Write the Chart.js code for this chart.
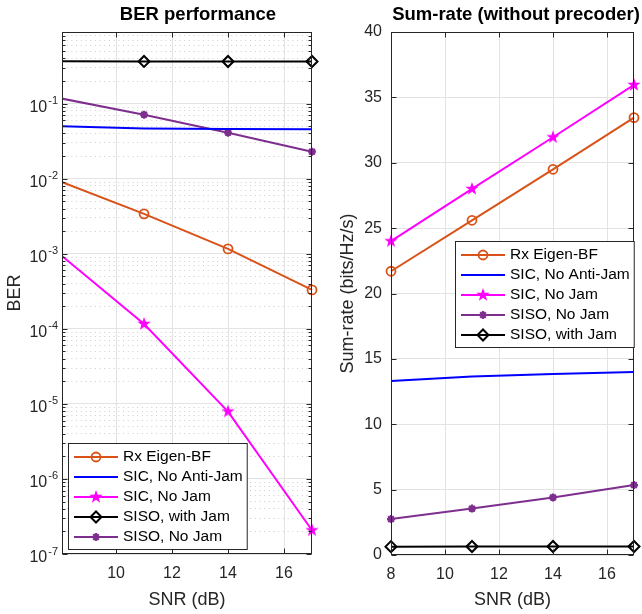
<!DOCTYPE html>
<html>
<head>
<meta charset="utf-8">
<script src="https://cdn.jsdelivr.net/npm/chart.js@4.4.0/dist/chart.umd.min.js"></script>
<style>
html, body { margin: 0; padding: 0; background: #fff; }
#wrap { position: relative; width: 642px; height: 614px; overflow: hidden; }
#ber { position: absolute; left: 0; top: 0; }
#rate { position: absolute; left: 330px; top: 0; }
</style>
</head>
<body>
<div id="wrap">
  <canvas id="ber" width="330" height="614"></canvas>
  <canvas id="rate" width="312" height="614"></canvas>
</div>
<script>
// datos
const snr = [8, 11, 14, 17];

const berRx = [0.0092, 0.0034, 0.00116, 0.00033];
const berSicAnti = [0.0500, 0.0468, 0.0458, 0.0454];
const berSicNoJam = [0.00098, 1.16e-4, 7.9e-6, 2.07e-7];
const berSisoJam = [0.366, 0.365, 0.364, 0.364];
const berSisoNoJam = [0.118, 0.0713, 0.041, 0.0229];

const rateRx = [21.7, 25.6, 29.5, 33.45];
const rateSicAnti = [13.3, 13.65, 13.85, 14.0];
const rateSicNoJam = [24.0, 28.0, 31.95, 35.95];
const rateSisoNoJam = [2.75, 3.55, 4.4, 5.35];
const rateSisoJam = [0.64, 0.65, 0.65, 0.65];

const snrTicksBer = [10, 12, 14, 16];
const snrTicksRate = [8, 10, 12, 14, 16];
const berDecades = [-7, -6, -5, -4, -3, -2, -1];
const rateTicks = [0, 5, 10, 15, 20, 25, 30, 35, 40];

const fam = "'Liberation Sans', Arial, Helvetica, sans-serif";
const txt = '#262626';
Chart.defaults.font.family = fam;
Chart.defaults.color = txt;

const berXMin = 8.07;

// valores de las marcas del eje log (decadas + menores)
const berTickValues = [];
berDecades.forEach(e => {
    for (let k = 1; k <= 9; k++) {
        const v = k * Math.pow(10, e);
        if (v <= 0.9 + 1e-12) berTickValues.push(v);
    }
});

function esDecada(v) {
    const l = Math.log10(v);
    return Math.abs(l - Math.round(l)) < 1e-9;
}

// pentagrama relleno para "SIC, No Jam"
function pentagrama(color, r) {
    const c = document.createElement('canvas');
    const s = Math.ceil(r * 2 + 2);
    c.width = s; c.height = s;
    const g = c.getContext('2d');
    g.beginPath();
    for (let i = 0; i < 10; i++) {
        const rr = i % 2 === 0 ? r : r * 0.4;
        const a = -Math.PI / 2 + i * Math.PI / 5;
        const px = s / 2 + rr * Math.cos(a);
        const py = s / 2 + rr * Math.sin(a);
        if (i === 0) g.moveTo(px, py); else g.lineTo(px, py);
    }
    g.closePath();
    g.fillStyle = color;
    g.fill();
    return c;
}
const estrella = pentagrama('#FF00FF', 7);

const mk = {
    rx: { style: 'circle', r: 4.5, bw: 1.8, fill: 'rgba(0,0,0,0)' },
    none: { style: 'circle', r: 0, bw: 0, fill: 'rgba(0,0,0,0)' },
    star: { style: estrella, r: 7, bw: 1, fill: '#FF00FF' },
    diam: { style: 'rectRot', r: 5.5, bw: 2, fill: 'rgba(0,0,0,0)' },
    ast: { style: 'star', r: 4, bw: 2.2, fill: '#7E2F8E' }
};

function serie(label, ys, color, marker, xmin) {
    return {
        label: label,
        data: snr.map((x, i) => ({ x: x, y: ys[i] })),
        borderColor: color,
        backgroundColor: color,
        borderWidth: 2,
        pointStyle: marker.style,
        pointRadius: c => (c.raw && c.raw.x < xmin) ? 0 : marker.r,
        pointBorderWidth: marker.bw,
        pointBackgroundColor: marker.fill,
        pointBorderColor: color,
        pointHoverRadius: marker.r,
        tension: 0,
        marker: marker
    };
}

// titulo, marco, marcas hacia dentro y etiquetas 10^n
const marcoPlugin = {
    id: 'marco',
    afterDatasetsDraw(chart, args, o) {
        const ctx = chart.ctx;
        const a = chart.chartArea;
        ctx.save();
        ctx.strokeStyle = txt;
        ctx.lineWidth = 1;
        const L = Math.round(a.left) + 0.5, R = Math.round(a.right) - 0.5;
        const T = Math.round(a.top) + 0.5, B = Math.round(a.bottom) - 0.5;
        ctx.beginPath();
        chart.scales.x.ticks.forEach(t => {
            const px = Math.round(chart.scales.x.getPixelForValue(t.value)) + 0.5;
            ctx.moveTo(px, B); ctx.lineTo(px, B - 5);
            ctx.moveTo(px, T); ctx.lineTo(px, T + 5);
        });
        chart.scales.y.ticks.forEach(t => {
            const py = Math.round(chart.scales.y.getPixelForValue(t.value)) + 0.5;
            const len = (o.log && !esDecada(t.value)) ? 3 : 5;
            ctx.moveTo(L, py); ctx.lineTo(L + len, py);
            ctx.moveTo(R, py); ctx.lineTo(R - len, py);
        });
        ctx.stroke();
        ctx.strokeRect(L, T, R - L, B - T);

        if (o.log) {
            const y = chart.scales.y;
            ctx.fillStyle = txt;
            ctx.textBaseline = 'middle';
            y.ticks.forEach(t => {
                if (!esDecada(t.value)) return;
                const py = y.getPixelForValue(t.value);
                const ex = String(Math.round(Math.log10(t.value)));
                ctx.font = '11px ' + fam;
                const we = ctx.measureText(ex).width;
                ctx.textAlign = 'right';
                ctx.fillText(ex, a.left - 4, py - 2.5);
                ctx.font = '16px ' + fam;
                ctx.fillText('10', a.left - 5 - we, py + 4);
            });
        }

        ctx.fillStyle = '#000';
        ctx.font = 'bold 18.5px ' + fam;
        ctx.textAlign = 'center';
        ctx.textBaseline = 'middle';
        ctx.fillText(o.title, o.titleX, 15);
        ctx.restore();
    }
};

// leyenda con caja dentro del area
const leyendaPlugin = {
    id: 'leyenda',
    afterDraw(chart, args, o) {
        const ctx = chart.ctx;
        ctx.save();
        ctx.font = '15.5px ' + fam;
        const items = o.order.map(i => chart.data.datasets[i]);
        const tw = Math.max(...items.map(d => ctx.measureText(d.label).width));
        const padL = 6, lineLen = 44, gap = 5, padR = 4, rowH = 20, padV = 3;
        const w = padL + lineLen + gap + tw + padR;
        const h = items.length * rowH + padV * 2;
        const x0 = o.x + 0.5, y0 = o.y + 0.5;
        ctx.fillStyle = '#fff';
        ctx.fillRect(x0, y0, w, h);
        ctx.strokeStyle = txt;
        ctx.lineWidth = 1;
        ctx.strokeRect(x0, y0, w, h);
        items.forEach((d, i) => {
            const cy = o.y + padV + rowH * i + rowH / 2 + 1;
            ctx.strokeStyle = d.borderColor;
            ctx.lineWidth = 2;
            ctx.beginPath();
            ctx.moveTo(o.x + padL, cy);
            ctx.lineTo(o.x + padL + lineLen, cy);
            ctx.stroke();
            const m = d.marker;
            if (m.r > 0) {
                ctx.fillStyle = m.fill;
                ctx.strokeStyle = d.borderColor;
                ctx.lineWidth = m.bw;
                Chart.helpers.drawPoint(ctx, { pointStyle: m.style, radius: m.r, borderWidth: m.bw, rotation: 0 }, o.x + padL + lineLen / 2, cy);
            }
            ctx.fillStyle = '#000';
            ctx.textAlign = 'left';
            ctx.textBaseline = 'middle';
            ctx.fillText(d.label, o.x + padL + lineLen + gap, cy);
        });
        ctx.restore();
    }
};

function ejeX(min, tickVals, alto) {
    return {
        type: 'linear', min: min, max: 17,
        afterBuildTicks: s => { s.ticks = tickVals.map(v => ({ value: v })); },
        afterFit: s => { s.height = alto; },
        grid: { color: '#e3e3e3', lineWidth: 1, drawTicks: false },
        border: { display: false },
        ticks: { color: txt, font: { size: 16 }, padding: 10, maxRotation: 0, autoSkip: false },
        title: { display: true, text: 'SNR (dB)', color: txt, font: { size: 18 }, padding: { top: 0, bottom: 3 } }
    };
}

const berSets = [
    serie('Rx Eigen-BF', berRx, '#D95319', mk.rx, berXMin),
    serie('SIC, No Anti-Jam', berSicAnti, '#0000FF', mk.none, berXMin),
    serie('SIC, No Jam', berSicNoJam, '#FF00FF', mk.star, berXMin),
    serie('SISO, with Jam', berSisoJam, '#000000', mk.diam, berXMin),
    serie('SISO, No Jam', berSisoNoJam, '#7E2F8E', mk.ast, berXMin)
];
// recortar solo por la izquierda (el dato en 8 queda fuera del eje)
berSets.forEach(d => { d.clip = { left: 0, top: 12, right: 12, bottom: 12 }; });

new Chart(document.getElementById('ber'), {
    type: 'line',
    data: { datasets: berSets },
    options: {
        responsive: false,
        animation: false,
        devicePixelRatio: 1,
        layout: { padding: { left: 0, right: 18, top: 32, bottom: 0 } },
        scales: {
            x: ejeX(berXMin, snrTicksBer, 60),
            y: {
                type: 'logarithmic', min: 1e-7, max: 0.9,
                afterBuildTicks: s => { s.ticks = berTickValues.map(v => ({ value: v })); },
                afterFit: s => { s.width = 62; },
                grid: {
                    color: c => (c.tick && esDecada(c.tick.value)) ? '#e3e3e3' : '#cdcdcd',
                    lineWidth: 1, drawTicks: false
                },
                border: { display: false, dash: c => (c.tick && esDecada(c.tick.value)) ? [] : [1, 3.7] },
                ticks: { display: false, autoSkip: false },
                title: { display: true, text: 'BER', color: txt, font: { size: 18 }, padding: { top: 4.5, bottom: 0 } }
            }
        },
        plugins: {
            legend: { display: false },
            tooltip: { enabled: false },
            marco: { title: 'BER performance', titleX: 198, log: true },
            leyenda: { x: 68, y: 443, order: [0, 1, 2, 3, 4] }
        }
    },
    plugins: [marcoPlugin, leyendaPlugin]
});

const rateSets = [
    serie('Rx Eigen-BF', rateRx, '#D95319', mk.rx, 0),
    serie('SIC, No Anti-Jam', rateSicAnti, '#0000FF', mk.none, 0),
    serie('SIC, No Jam', rateSicNoJam, '#FF00FF', mk.star, 0),
    serie('SISO, with Jam', rateSisoJam, '#000000', mk.diam, 0),
    serie('SISO, No Jam', rateSisoNoJam, '#7E2F8E', mk.ast, 0)
];
rateSets.forEach(d => { d.clip = false; });

new Chart(document.getElementById('rate'), {
    type: 'line',
    data: { datasets: rateSets },
    options: {
        responsive: false,
        animation: false,
        devicePixelRatio: 1,
        layout: { padding: { left: 0, right: 1, top: 32, bottom: 0 } },
        scales: {
            x: ejeX(8, snrTicksRate, 59),
            y: {
                type: 'linear', min: 0, max: 40,
                afterBuildTicks: s => { s.ticks = rateTicks.map(v => ({ value: v })); },
                afterFit: s => { s.width = 61; },
                grid: { color: '#e3e3e3', lineWidth: 1, drawTicks: false },
                border: { display: false },
                ticks: { color: txt, font: { size: 16 }, padding: 9, autoSkip: false },
                title: { display: true, text: 'Sum-rate (bits/Hz/s)', color: txt, font: { size: 18 }, padding: { top: 7, bottom: 0 } }
            }
        },
        plugins: {
            legend: { display: false },
            tooltip: { enabled: false },
            marco: { title: 'Sum-rate (without precoder)', titleX: 186, log: false },
            leyenda: { x: 125, y: 241, order: [0, 1, 2, 4, 3] }
        }
    },
    plugins: [marcoPlugin, leyendaPlugin]
});
</script>
</body>
</html>
